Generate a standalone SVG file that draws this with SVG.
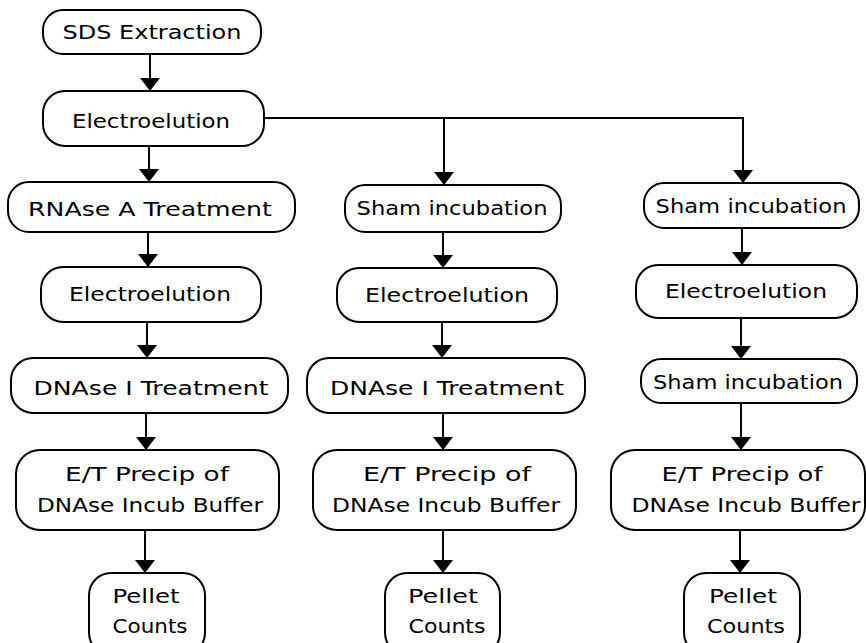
<svg xmlns="http://www.w3.org/2000/svg" width="866" height="643" viewBox="0 0 866 643">
<style>
.box{fill:#fff;stroke:#000;stroke-width:2}
.t{font-family:"DejaVu Sans","Liberation Sans",sans-serif;font-size:19px;fill:#000;text-anchor:middle}
.c{fill:none;stroke:#000;stroke-width:2}
</style>
<defs>
<marker id="ah" markerUnits="userSpaceOnUse" markerWidth="13" markerHeight="20" viewBox="0 0 13 20" refX="13" refY="10" orient="auto">
<path d="M0,0 L13,10 L0,20 z" fill="#000"/>
</marker>
</defs>
<rect width="866" height="643" fill="#fff"/>
<g id="connectors">
<line class="c" x1="150" y1="54" x2="150" y2="91" marker-end="url(#ah)"/>
<line class="c" x1="149" y1="146" x2="149" y2="182" marker-end="url(#ah)"/>
<polyline class="c" points="264,118 743,118 743,183" marker-end="url(#ah)"/>
<line class="c" x1="444" y1="118" x2="444" y2="185" marker-end="url(#ah)"/>
<line class="c" x1="148" y1="232" x2="148" y2="267" marker-end="url(#ah)"/>
<line class="c" x1="147" y1="322" x2="147" y2="358" marker-end="url(#ah)"/>
<line class="c" x1="146" y1="413" x2="146" y2="450" marker-end="url(#ah)"/>
<line class="c" x1="145" y1="530" x2="145" y2="573" marker-end="url(#ah)"/>
<line class="c" x1="443" y1="232" x2="443" y2="268" marker-end="url(#ah)"/>
<line class="c" x1="442" y1="322" x2="442" y2="358" marker-end="url(#ah)"/>
<line class="c" x1="443" y1="413" x2="443" y2="450" marker-end="url(#ah)"/>
<line class="c" x1="443" y1="530" x2="443" y2="573" marker-end="url(#ah)"/>
<line class="c" x1="742" y1="228" x2="742" y2="265" marker-end="url(#ah)"/>
<line class="c" x1="741" y1="318" x2="741" y2="359" marker-end="url(#ah)"/>
<line class="c" x1="741" y1="403" x2="741" y2="450" marker-end="url(#ah)"/>
<line class="c" x1="740" y1="530" x2="740" y2="573" marker-end="url(#ah)"/>
</g>
<g id="sds"><rect class="box" x="43" y="10" width="218" height="44" rx="20"/><text class="t" x="152" y="39" textLength="179" lengthAdjust="spacingAndGlyphs">SDS Extraction</text></g>
<g id="electro0"><rect class="box" x="43" y="91" width="221" height="55" rx="22"/><text class="t" x="151" y="128" textLength="158" lengthAdjust="spacingAndGlyphs">Electroelution</text></g>
<g id="rnase"><rect class="box" x="8" y="182" width="287" height="50" rx="21"/><text class="t" x="150" y="216" textLength="244" lengthAdjust="spacingAndGlyphs">RNAse A  Treatment</text></g>
<g id="sham2"><rect class="box" x="345" y="185" width="216" height="47" rx="20"/><text class="t" x="452" y="215" textLength="191" lengthAdjust="spacingAndGlyphs">Sham incubation</text></g>
<g id="sham3"><rect class="box" x="644" y="183" width="215" height="45" rx="20"/><text class="t" x="751" y="213" textLength="191" lengthAdjust="spacingAndGlyphs">Sham incubation</text></g>
<g id="electro1"><rect class="box" x="41" y="267" width="220" height="55" rx="22"/><text class="t" x="150" y="301" textLength="162" lengthAdjust="spacingAndGlyphs">Electroelution</text></g>
<g id="electro2"><rect class="box" x="337" y="268" width="220" height="54" rx="22"/><text class="t" x="447" y="302" textLength="164" lengthAdjust="spacingAndGlyphs">Electroelution</text></g>
<g id="electro3"><rect class="box" x="636" y="265" width="221" height="53" rx="22"/><text class="t" x="746" y="298" textLength="162" lengthAdjust="spacingAndGlyphs">Electroelution</text></g>
<g id="dnase1"><rect class="box" x="11" y="358" width="277" height="55" rx="22"/><text class="t" x="151" y="395" textLength="235" lengthAdjust="spacingAndGlyphs">DNAse I  Treatment</text></g>
<g id="dnase2"><rect class="box" x="307" y="358" width="278" height="55" rx="22"/><text class="t" x="447" y="395" textLength="234" lengthAdjust="spacingAndGlyphs">DNAse I  Treatment</text></g>
<g id="sham3b"><rect class="box" x="641" y="359" width="216" height="44" rx="20"/><text class="t" x="748" y="389" textLength="190" lengthAdjust="spacingAndGlyphs">Sham incubation</text></g>
<g id="et1"><rect class="box" x="16" y="450" width="263" height="80" rx="24"/><text class="t" x="147" y="481" textLength="164" lengthAdjust="spacingAndGlyphs">E/T Precip of</text><text class="t" x="150" y="512" textLength="226" lengthAdjust="spacingAndGlyphs">DNAse Incub Buffer</text></g>
<g id="et2"><rect class="box" x="313" y="450" width="263" height="80" rx="24"/><text class="t" x="447" y="481" textLength="168" lengthAdjust="spacingAndGlyphs">E/T Precip of</text><text class="t" x="446" y="512" textLength="228" lengthAdjust="spacingAndGlyphs">DNAse Incub Buffer</text></g>
<g id="et3"><rect class="box" x="611" y="450" width="254" height="80" rx="24"/><text class="t" x="742" y="481" textLength="161" lengthAdjust="spacingAndGlyphs">E/T Precip of</text><text class="t" x="746" y="512" textLength="229" lengthAdjust="spacingAndGlyphs">DNAse Incub Buffer</text></g>
<g id="pellet1"><rect class="box" x="89" y="573" width="116" height="82" rx="22"/><text class="t" x="146" y="603" textLength="67" lengthAdjust="spacingAndGlyphs">Pellet</text><text class="t" x="150" y="633" textLength="75" lengthAdjust="spacingAndGlyphs">Counts</text></g>
<g id="pellet2"><rect class="box" x="385" y="573" width="115" height="82" rx="22"/><text class="t" x="443" y="603" textLength="70" lengthAdjust="spacingAndGlyphs">Pellet</text><text class="t" x="447" y="633" textLength="77" lengthAdjust="spacingAndGlyphs">Counts</text></g>
<g id="pellet3"><rect class="box" x="684" y="573" width="116" height="82" rx="22"/><text class="t" x="743" y="603" textLength="68" lengthAdjust="spacingAndGlyphs">Pellet</text><text class="t" x="746" y="633" textLength="78" lengthAdjust="spacingAndGlyphs">Counts</text></g>
</svg>
